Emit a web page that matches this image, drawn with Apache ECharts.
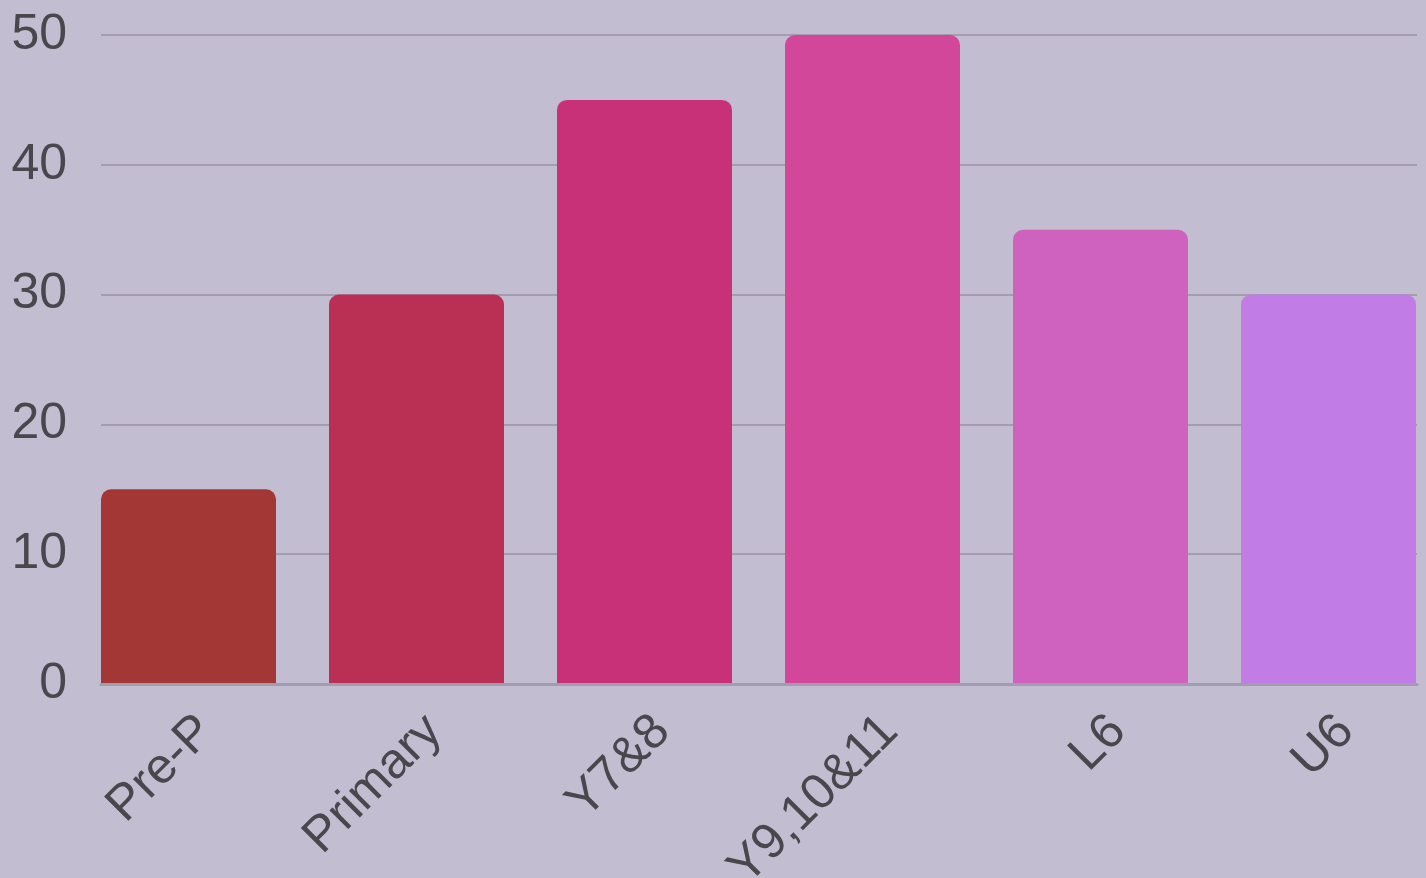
<!DOCTYPE html>
<html>
<head>
<meta charset="utf-8">
<style>
html,body{margin:0;padding:0;background:#c3bdd2;}
#chart{width:1426px;height:878px;}
</style>
<script src="https://cdn.jsdelivr.net/npm/echarts@6/dist/echarts.min.js"></script>
</head>
<body>
<div id="chart"></div>
<script>
const categories = ['Pre-P', 'Primary', 'Y7&8', 'Y9,10&11', 'L6', 'U6'];
const values = [15, 30, 45, 50, 35, 30];
const barColors = ['#a33735', '#ba3054', '#c83078', '#d3479b', '#cf62bf', '#c27ce6'];
const yTicks = [0, 10, 20, 30, 40, 50];

const chart = echarts.init(document.getElementById('chart'));
const textColor = '#48474c';
const font = 'Liberation Sans, Arial, sans-serif';
chart.setOption({
  backgroundColor: '#c3bdd2',
  animation: false,
  grid: [
    {left: 101, width: 1316, top: 35, height: 649, outerBoundsMode: 'none', containLabel: false},
    {left: 74.5, width: 1368, top: 35, height: 649, outerBoundsMode: 'none', containLabel: false}
  ],
  xAxis: [
    {type: 'category', gridIndex: 0, data: categories, boundaryGap: true,
     axisLine: {show: true, lineStyle: {color: '#a29cb0', width: 3}},
     axisTick: {show: false}, axisLabel: {show: false}, splitLine: {show: false}, z: 5},
    {type: 'category', gridIndex: 1, data: categories,
     axisLine: {show: false}, axisTick: {show: false},
     axisLabel: {rotate: 45, fontSize: 50, color: textColor, fontFamily: font, margin: 22, interval: 0, verticalAlign: 'top'}}
  ],
  yAxis: [
    {type: 'value', gridIndex: 0, min: yTicks[0], max: yTicks[yTicks.length - 1], interval: 10,
     axisLine: {show: false}, axisTick: {show: false},
     axisLabel: {fontSize: 50, color: textColor, fontFamily: font, margin: 34},
     splitLine: {lineStyle: {color: '#a39dae', width: 2}}},
    {type: 'value', gridIndex: 1, min: 0, max: 50, show: false, splitLine: {show: false}}
  ],
  series: [{
    type: 'bar',
    xAxisIndex: 1, yAxisIndex: 1,
    barWidth: 175,
    data: values.map((v, i) => ({value: v, itemStyle: {color: barColors[i]}})),
    itemStyle: {borderRadius: [10, 10, 0, 0]},
    z: 3
  }]
});
</script>
</body>
</html>
